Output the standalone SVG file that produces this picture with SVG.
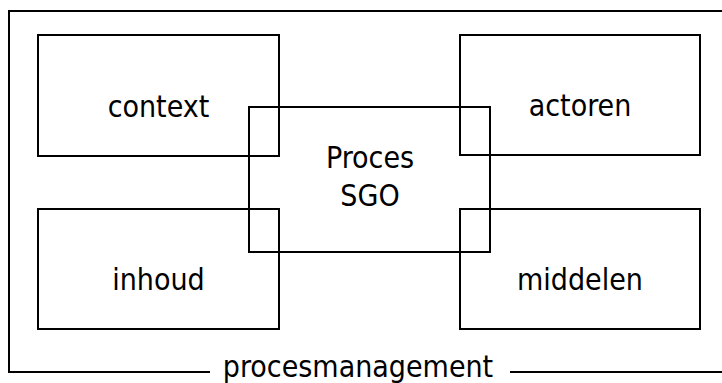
<svg xmlns="http://www.w3.org/2000/svg" width="722" height="383" viewBox="0 0 722 383">
<style>
.box{fill:none;stroke:#000;stroke-width:2}
.lbl{font-family:"DejaVu Sans Condensed","DejaVu Sans",sans-serif;font-stretch:condensed;font-size:30px;fill:#000;text-anchor:middle}
</style>
<rect width="722" height="383" fill="#fff"/>
<g id="frame">
<path class="box" d="M210,372 H9 V11 H730 V372 H510"/>
<text class="lbl" x="358" y="377">procesmanagement</text>
</g>
<g id="context"><rect class="box" x="38" y="35" width="241" height="121"/><text class="lbl" x="158.5" y="117">context</text></g>
<g id="actoren"><rect class="box" x="460" y="35" width="240" height="120"/><text class="lbl" x="580" y="116">actoren</text></g>
<g id="inhoud"><rect class="box" x="38" y="209" width="241" height="120"/><text class="lbl" x="158.5" y="290">inhoud</text></g>
<g id="middelen"><rect class="box" x="460" y="209" width="240" height="120"/><text class="lbl" x="580" y="290">middelen</text></g>
<g id="proces"><rect class="box" x="249" y="107" width="241" height="145"/><text class="lbl" x="370" y="168">Proces</text><text class="lbl" x="370" y="205.5">SGO</text></g>
<g id="connectors"></g>
</svg>
